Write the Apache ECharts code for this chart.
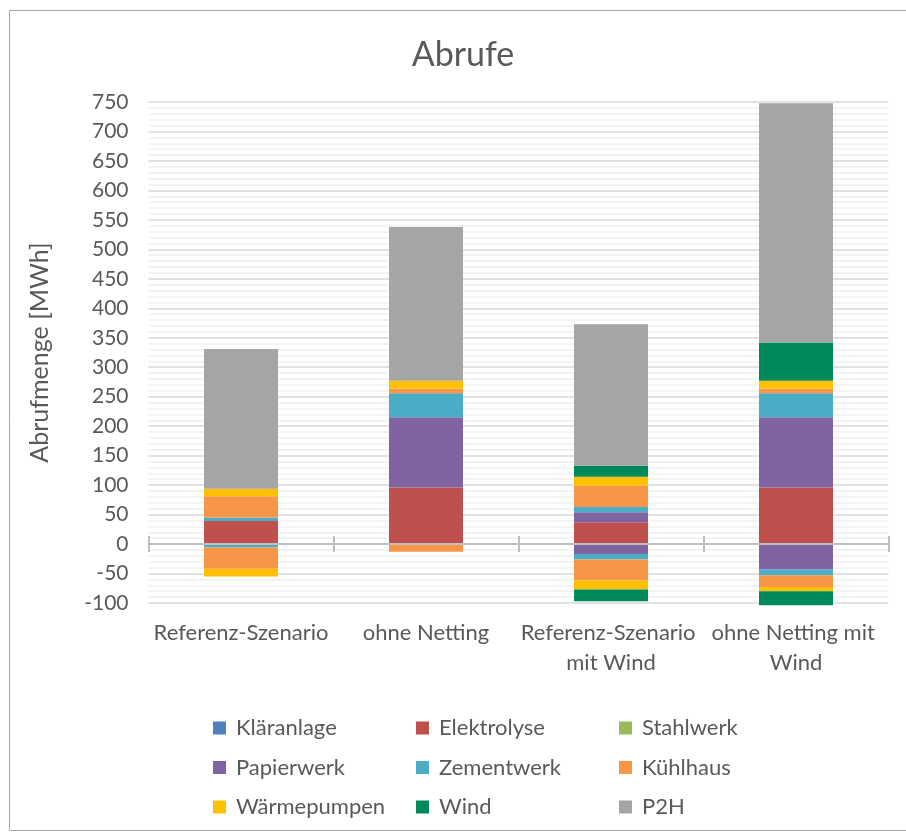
<!DOCTYPE html>
<html>
<head>
<meta charset="utf-8">
<script src="https://cdn.jsdelivr.net/npm/echarts@6/dist/echarts.min.js"></script>
<style>
  html, body { margin: 0; padding: 0; background: #ffffff; }
  #chart { width: 906px; height: 837px; }
</style>
</head>
<body>
<div id="chart"></div>
<script>
// Scenarios on the category axis
const categories = ['Referenz-Szenario', 'ohne Netting', 'Referenz-Szenario mit Wind', 'ohne Netting mit Wind'];

// Called energy per consumer [MWh]; positive and negative calls are kept apart
const klaeranlage     = [0, 0, 0, 0];
const elektrolyse     = [39, 96, 37, 96];
const stahlwerk       = [0, 0, 0, 0];
const papierwerkPos   = [0, 119, 17, 119];
const papierwerkNeg   = [0, 0, -17, -43];
const zementwerkPos   = [6, 41, 9, 41];
const zementwerkNeg   = [-6, 0, -9, -10];
const kuehlhausPos    = [36, 8, 36, 8];
const kuehlhausNeg    = [-36, -13, -36, -20];
const waermepumpenPos = [13, 13, 15, 13];
const waermepumpenNeg = [-13, 0, -15, -7];
const windPos         = [0, 0, 19, 65];
const windNeg         = [0, 0, -20, -24];
const p2h             = [237, 261, 240, 406];

// Value axis range
const yMin = -100, yMax = 750, yStep = 50;

const colors = {
  'Kläranlage': '#4F81BD',
  'Elektrolyse': '#C0504D',
  'Stahlwerk': '#9BBB59',
  'Papierwerk': '#8064A2',
  'Zementwerk': '#4BACC6',
  'Kühlhaus': '#F79646',
  'Wärmepumpen': '#FFC000',
  'Wind': '#00895A',
  'P2H': '#A5A5A5'
};

const FONT = 'Lato';
const TXT = '#595959';

// Stack order: positive parts first, then negative parts (stacked downward from zero)
const parts = [
  ['Kläranlage', klaeranlage],
  ['Elektrolyse', elektrolyse],
  ['Stahlwerk', stahlwerk],
  ['Papierwerk', papierwerkPos],
  ['Zementwerk', zementwerkPos],
  ['Kühlhaus', kuehlhausPos],
  ['Wärmepumpen', waermepumpenPos],
  ['Wind', windPos],
  ['P2H', p2h],
  ['Papierwerk', papierwerkNeg],
  ['Zementwerk', zementwerkNeg],
  ['Kühlhaus', kuehlhausNeg],
  ['Wärmepumpen', waermepumpenNeg],
  ['Wind', windNeg]
];

const series = parts.map(([name, data]) => ({
  name: name,
  type: 'bar',
  stack: 'total',
  data: data,
  xAxisIndex: 0,
  barWidth: '40%',
  clip: false,
  itemStyle: { color: colors[name] },
  emphasis: { disabled: true }
}));

const legendText = { fontFamily: FONT, fontSize: 22, color: TXT, lineHeight: 24, padding: [0, 0, 0, 5] };
function legendColumn(left, names) {
  return {
    orient: 'vertical',
    left: left,
    top: 716,
    padding: 0,
    itemWidth: 13,
    itemHeight: 13,
    itemGap: 15.5,
    icon: 'rect',
    selectedMode: false,
    textStyle: legendText,
    data: names
  };
}

const chart = echarts.init(document.getElementById('chart'), null, { renderer: 'canvas' });
chart.setOption({
  animation: false,
  backgroundColor: '#ffffff',
  textStyle: { fontFamily: FONT },
  graphic: [
    {
      type: 'rect',
      shape: { x: 9.5, y: 10.5, width: 920, height: 820 },
      style: { fill: 'none', stroke: '#a6a6a6', lineWidth: 1 },
      silent: true,
      z: -10
    },
    {
      type: 'text',
      x: 463,
      y: 55,
      silent: true,
      style: {
        text: 'Abrufe',
        fontFamily: FONT,
        fontSize: 34,
        fill: TXT,
        align: 'center',
        verticalAlign: 'middle'
      }
    }
  ],
  legend: [
    legendColumn(213, ['Kläranlage', 'Papierwerk', 'Wärmepumpen']),
    legendColumn(416, ['Elektrolyse', 'Zementwerk', 'Wind']),
    legendColumn(619, ['Stahlwerk', 'Kühlhaus', 'P2H'])
  ],
  grid: { left: 148.5, right: 17.5, top: 102, bottom: 234, containLabel: false },
  xAxis: [
    {
      // category labels below the plot
      type: 'category',
      data: categories,
      position: 'bottom',
      axisLine: { show: false, onZero: false },
      axisTick: { show: false },
      axisLabel: {
        margin: 15,
        fontFamily: FONT,
        fontSize: 22,
        lineHeight: 30,
        color: TXT,
        width: 184,
        overflow: 'break',
        interval: 0
      }
    },
    {
      // zero line with ticks pointing up
      type: 'category',
      data: categories,
      position: 'bottom',
      z: 5,
      axisLine: { show: true, onZero: true, onZeroAxisIndex: 0, lineStyle: { color: '#bfbfbf', width: 2 } },
      axisTick: { show: true, interval: 0, inside: true, length: 8, lineStyle: { color: '#bfbfbf', width: 2 } },
      axisLabel: { show: false, interval: 0 }
    },
    {
      // zero line ticks pointing down
      type: 'category',
      data: categories,
      position: 'bottom',
      z: 5,
      axisLine: { show: false, onZero: true, onZeroAxisIndex: 0 },
      axisTick: { show: true, interval: 0, inside: false, length: 8, lineStyle: { color: '#bfbfbf', width: 2 } },
      axisLabel: { show: false, interval: 0 }
    }
  ],
  yAxis: {
    type: 'value',
    min: yMin,
    max: yMax,
    interval: yStep,
    name: 'Abrufmenge [MWh]',
    nameLocation: 'middle',
    nameGap: 96,
    nameTextStyle: { fontFamily: FONT, fontSize: 25, color: TXT },
    axisLine: { show: false },
    axisTick: { show: false },
    axisLabel: { margin: 20, fontFamily: FONT, fontSize: 21, color: TXT },
    splitLine: { show: true, lineStyle: { color: '#d9d9d9', width: 1.5 } },
    minorTick: { show: false, splitNumber: 5 },
    minorSplitLine: { show: true, lineStyle: { color: '#f0f0f0', width: 1.5 } }
  },
  series: series
});
</script>
</body>
</html>
